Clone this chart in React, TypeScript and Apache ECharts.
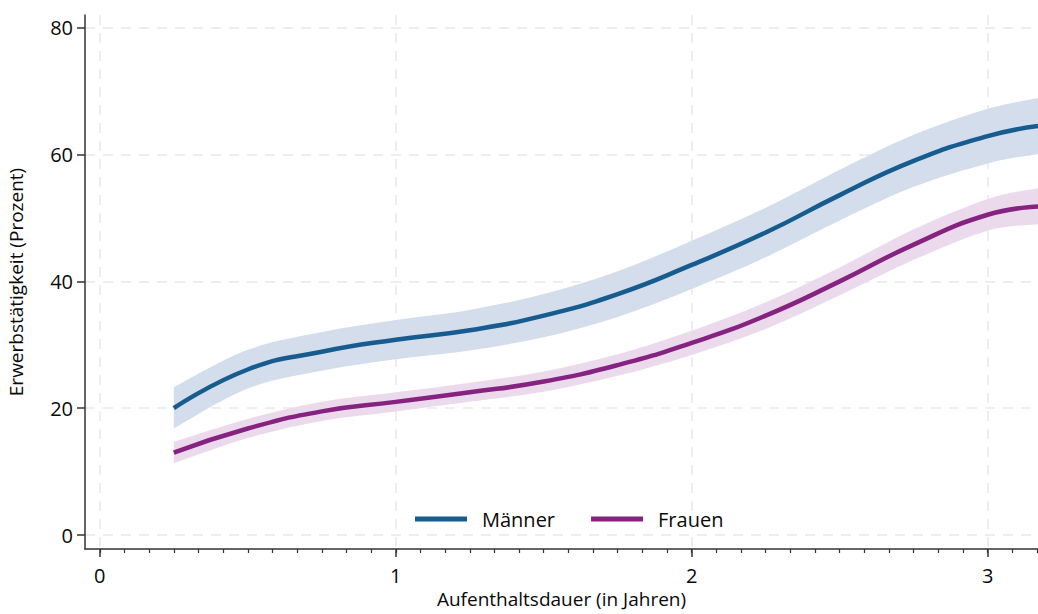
import React, { useEffect, useRef } from "react";
import * as echarts from "echarts";

const xs = [0.25, 0.5, 0.75, 1.0, 1.25, 1.5, 1.75, 2.0, 2.25, 2.5, 2.75, 3.0, 3.17];
const menMid = [20.0, 26.1, 28.9, 30.8, 32.3, 34.6, 38.0, 42.6, 47.7, 53.6, 59.0, 62.9, 64.5];
const menLo = [16.8, 23.1, 25.9, 27.7, 29.1, 31.2, 34.4, 38.8, 43.8, 49.6, 54.9, 58.6, 60.1];
const menHi = [23.3, 29.2, 32.0, 33.9, 35.5, 38.0, 41.6, 46.4, 51.6, 57.6, 63.1, 67.2, 68.9];
const womenMid = [13.0, 16.8, 19.5, 21.0, 22.5, 24.2, 26.8, 30.3, 34.6, 40.0, 45.8, 50.5, 51.8];
const womenLo = [11.3, 15.3, 18.0, 19.5, 21.0, 22.6, 25.1, 28.4, 32.5, 37.8, 43.4, 48.0, 49.0];
const womenHi = [14.7, 18.3, 21.0, 22.5, 24.0, 25.8, 28.5, 32.2, 36.7, 42.2, 48.2, 53.0, 54.7];
const xMajorTicks = [0, 1, 2, 3];
const xMinorTicks = Array.from({ length: 39 }, (_, i) => i / 12);
const yTicks = [0, 20, 40, 60, 80];

const MEN_LINE = "#175c8e";
const MEN_BAND = "#d4ddeb";
const WOMEN_LINE = "#862381";
const WOMEN_BAND = "#ebdaec";
const FONT = "'Open Sans', 'DejaVu Sans', sans-serif";
const TEXT = "#0a0a0a";

const pairs = (ys: number[]) => xs.map((x, i) => [x, ys[i]]);

// Catmull-Rom -> cubic bezier path segment through pixel points (rendering only)
function curveThrough(pts: number[][], start: boolean): string {
  let d = start ? `M${pts[0][0]},${pts[0][1]}` : `L${pts[0][0]},${pts[0][1]}`;
  for (let i = 0; i < pts.length - 1; i++) {
    const p0 = pts[i - 1] || pts[i];
    const p1 = pts[i];
    const p2 = pts[i + 1];
    const p3 = pts[i + 2] || p2;
    const t = 1 / 6;
    const c1x = p1[0] + (p2[0] - p0[0]) * t;
    const c1y = p1[1] + (p2[1] - p0[1]) * t;
    const c2x = p2[0] - (p3[0] - p1[0]) * t;
    const c2y = p2[1] - (p3[1] - p1[1]) * t;
    d += ` C${c1x},${c1y} ${c2x},${c2y} ${p2[0]},${p2[1]}`;
  }
  return d;
}

function bandSeries(name: string, lo: number[], hi: number[], color: string) {
  return {
    name,
    type: "custom",
    silent: true,
    data: [0],
    clip: true,
    renderItem: (params: any, api: any) => {
      const top = xs.map((x, i) => api.coord([x, hi[i]]));
      const bot = xs.map((x, i) => api.coord([x, lo[i]])).reverse();
      const d = curveThrough(top, true) + " " + curveThrough(bot, false) + " Z";
      return {
        type: "path",
        shape: { pathData: d },
        style: { fill: color, stroke: "none" },
      };
    },
  };
}

export default function App() {
  const ref = useRef<HTMLDivElement>(null);
  useEffect(() => {
    if (!ref.current) return;
    const chart = echarts.init(ref.current, null, { renderer: "svg" });
    chart.setOption({
      animation: false,
      backgroundColor: "#ffffff",
      grid: { left: 85, right: 0, top: 15, bottom: 65, containLabel: false, outerBoundsMode: "none" },
      legend: {
        data: ["Männer", "Frauen"],
        bottom: 80,
        left: 410,
        itemWidth: 52,
        itemHeight: 5,
        itemGap: 36,
        icon: "rect",
        textStyle: { fontFamily: FONT, fontSize: 20, color: TEXT, padding: [0, 0, 0, 10] },
      },
      xAxis: [
        {
          type: "value",
          min: -0.05,
          max: 3.17,
          name: "Aufenthaltsdauer (in Jahren)",
          nameLocation: "middle",
          nameGap: 40,
          nameTextStyle: { fontFamily: FONT, fontSize: 19, color: TEXT },
          axisLine: { show: true, onZero: false, lineStyle: { color: "#333", width: 1.5 } },
          axisTick: { show: true, customValues: xMajorTicks, length: 8, lineStyle: { color: "#333", width: 1.5 } },
          axisLabel: { customValues: xMajorTicks, fontFamily: FONT, fontSize: 20, color: TEXT, margin: 16 },
          splitLine: { show: true, lineStyle: { color: "#e9e9e9", type: [10, 8], width: 1.5 } },
        },
        {
          type: "value",
          min: -0.05,
          max: 3.17,
          position: "bottom",
          axisLine: { show: false, onZero: false },
          axisTick: { show: true, customValues: xMinorTicks, length: 4, lineStyle: { color: "#333", width: 1.2 } },
          axisLabel: { show: false },
          splitLine: { show: false },
        },
      ],
      yAxis: {
        type: "value",
        min: -2.2,
        max: 82,
        name: "Erwerbstätigkeit (Prozent)",
        nameLocation: "middle",
        nameGap: 60,
        nameRotate: 90,
        nameTextStyle: { fontFamily: FONT, fontSize: 19, color: TEXT },
        axisLine: { show: true, onZero: false, lineStyle: { color: "#333", width: 1.5 } },
        axisTick: { show: true, customValues: yTicks, length: 8, lineStyle: { color: "#333", width: 1.5 } },
        axisLabel: { customValues: yTicks, fontFamily: FONT, fontSize: 20, color: TEXT, margin: 12 },
        splitLine: { show: true, lineStyle: { color: "#e9e9e9", type: [10, 8], width: 1.5 } },
      },
      series: [
        bandSeries("Männer KI", menLo, menHi, MEN_BAND),
        bandSeries("Frauen KI", womenLo, womenHi, WOMEN_BAND),
        {
          name: "Männer",
          type: "line",
          data: pairs(menMid),
          smooth: true,
          symbol: "none",
          color: MEN_LINE,
          lineStyle: { color: MEN_LINE, width: 4.5 },
        },
        {
          name: "Frauen",
          type: "line",
          data: pairs(womenMid),
          smooth: true,
          symbol: "none",
          color: WOMEN_LINE,
          lineStyle: { color: WOMEN_LINE, width: 4.5 },
        },
      ],
    });
    return () => chart.dispose();
  }, []);
  return <div ref={ref} style={{ width: 1038, height: 614, position: "absolute", left: 0, top: 0 }} />;
}
